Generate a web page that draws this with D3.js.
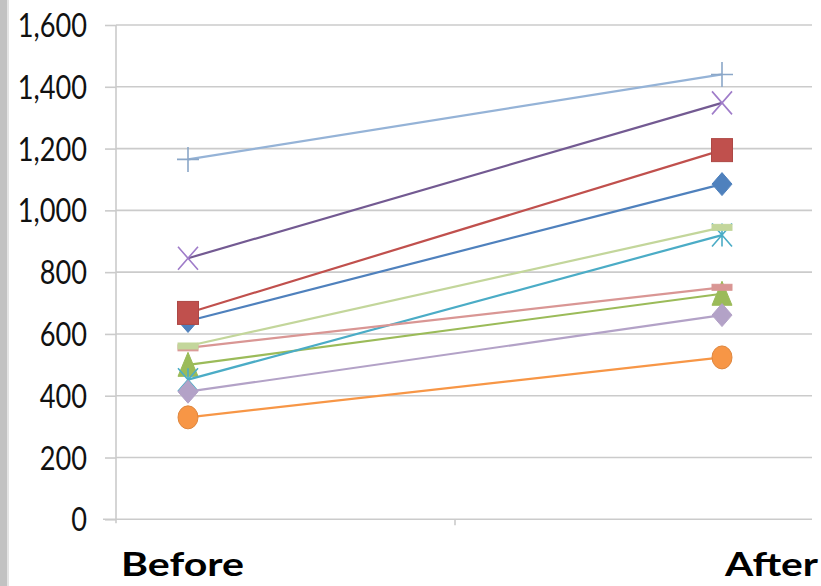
<!DOCTYPE html>
<html>
<head>
<meta charset="utf-8">
<script src="https://cdn.jsdelivr.net/npm/d3@7"></script>
<style>
  html, body { margin: 0; padding: 0; background: #fff; }
  svg { display: block; }
</style>
</head>
<body>
<svg id="chart" width="821" height="586"></svg>
<script>
// Two-point slope chart: ten measurements before and after.
const categories = ["Before", "After"];
const beforeValues = [642, 668, 500, 845, 452, 330, 1165, 555, 561, 413];
const afterValues  = [1085, 1195, 730, 1348, 920, 524, 1440, 751, 945, 661];
const yTickValues  = [0, 200, 400, 600, 800, 1000, 1200, 1400, 1600];

// Per-series look (Office palette and marker sequence)
const seriesColors  = ["#4f81bd", "#c0504d", "#9bbb59", "#8064a2", "#4bacc6",
                       "#f79646", "#95b3d7", "#d99694", "#c3d69b", "#b3a2c7"];
const seriesMarkers = ["diamond", "square", "triangle", "x", "star",
                       "circle", "plus", "dash", "dash", "diamond"];

const svg = d3.select("#chart");

// gray strip along the left edge
svg.append("rect").attr("x", 0).attr("y", 0).attr("width", 7).attr("height", 586).attr("fill", "#c2c2c2");
svg.append("rect").attr("x", 7).attr("y", 0).attr("width", 2).attr("height", 586).attr("fill", "#e4e4e4");

const plotLeft = 116, plotRight = 812;
const y = d3.scaleLinear().domain([0, 1600]).range([519.3, 25]);
const x = d3.scalePoint().domain(categories).range([188, 722]);

const gridColor = "#cbcbcb";

// horizontal gridlines
svg.append("g").selectAll("line")
  .data(yTickValues.filter(v => v > 0))
  .join("line")
  .attr("x1", plotLeft).attr("x2", plotRight)
  .attr("y1", d => y(d)).attr("y2", d => y(d))
  .attr("stroke", gridColor).attr("stroke-width", 1.6);

// y axis
const yAxis = d3.axisLeft(y)
  .tickValues(yTickValues)
  .tickFormat(d3.format(","))
  .tickSizeInner(11).tickSizeOuter(0).tickPadding(18);
const gy = svg.append("g").attr("transform", `translate(${plotLeft},0)`).call(yAxis);
gy.select(".domain").remove();
gy.selectAll(".tick line").attr("stroke", gridColor).attr("stroke-width", 1.6);
gy.selectAll(".tick text")
  .attr("fill", "#111")
  .style("font-family", "Lato, 'Open Sans', sans-serif")
  .style("font-size", "32px")
  .attr("dy", "0.36em")
  .each(function () {
    const w = this.getComputedTextLength();
    d3.select(this).attr("textLength", w * 0.85).attr("lengthAdjust", "spacingAndGlyphs");
  });
svg.append("line")
  .attr("x1", plotLeft).attr("x2", plotLeft)
  .attr("y1", y(1600)).attr("y2", y(0) + 4)
  .attr("stroke", gridColor).attr("stroke-width", 1.6);

// x axis baseline and category divider tick
svg.append("line")
  .attr("x1", plotLeft - 13).attr("x2", plotRight)
  .attr("y1", y(0)).attr("y2", y(0))
  .attr("stroke", gridColor).attr("stroke-width", 1.6);
const midX = (x(categories[0]) + x(categories[1])) / 2;
svg.append("line")
  .attr("x1", midX).attr("x2", midX)
  .attr("y1", y(0)).attr("y2", y(0) + 6)
  .attr("stroke", gridColor).attr("stroke-width", 1.6);

// category labels
const labelPos = { Before: { x: 121, w: 123 }, After: { x: 725, w: 93 } };
svg.append("g").selectAll("text")
  .data(categories)
  .join("text")
  .attr("x", d => labelPos[d].x)
  .attr("y", 576)
  .attr("textLength", d => labelPos[d].w)
  .attr("lengthAdjust", "spacingAndGlyphs")
  .style("font-family", "Lato, 'Open Sans', sans-serif")
  .style("font-weight", 700)
  .style("font-size", "32px")
  .attr("fill", "#000")
  .text(d => d);

// series lines and markers
const series = beforeValues.map((b, i) => ({
  values: [b, afterValues[i]],
  color: seriesColors[i],
  marker: seriesMarkers[i]
}));

function drawMarker(g, type, color, cx, cy) {
  const hw = 10, hh = 11.5;
  switch (type) {
    case "diamond":
      g.append("path")
        .attr("d", `M${cx},${cy - hh}L${cx + hw},${cy}L${cx},${cy + hh}L${cx - hw},${cy}Z`)
        .attr("fill", color).attr("stroke", color).attr("stroke-width", 1);
      break;
    case "square":
      g.append("rect")
        .attr("x", cx - hw - 0.5).attr("y", cy - hh).attr("width", 2 * hw + 1).attr("height", 2 * hh)
        .attr("fill", color).attr("stroke", d3.color(color).darker(0.3)).attr("stroke-width", 1);
      break;
    case "triangle":
      g.append("path")
        .attr("d", `M${cx},${cy - hh - 1}L${cx + hw},${cy + hh}L${cx - hw},${cy + hh}Z`)
        .attr("fill", color).attr("stroke", color).attr("stroke-width", 1);
      break;
    case "circle":
      g.append("ellipse")
        .attr("cx", cx).attr("cy", cy).attr("rx", hw).attr("ry", hh)
        .attr("fill", color).attr("stroke", d3.color(color).darker(0.3)).attr("stroke-width", 1);
      break;
    case "x":
      g.append("path")
        .attr("d", `M${cx - hw},${cy - hh}L${cx + hw},${cy + hh}M${cx - hw},${cy + hh}L${cx + hw},${cy - hh}`)
        .attr("fill", "none").attr("stroke", d3.color(color).brighter(0.6)).attr("stroke-width", 1.6);
      break;
    case "star":
      g.append("path")
        .attr("d", `M${cx - hw},${cy - hh}L${cx + hw},${cy + hh}M${cx - hw},${cy + hh}L${cx + hw},${cy - hh}M${cx},${cy - hh}L${cx},${cy + hh}`)
        .attr("fill", "none").attr("stroke", color).attr("stroke-width", 1.6);
      break;
    case "plus":
      g.append("path")
        .attr("d", `M${cx - hw - 1},${cy}L${cx + hw + 1},${cy}M${cx},${cy - hh - 1}L${cx},${cy + hh + 1}`)
        .attr("fill", "none").attr("stroke", d3.color(color).darker(0.2)).attr("stroke-width", 1.6);
      break;
    case "dash":
      g.append("rect")
        .attr("x", cx - hw).attr("y", cy - 3).attr("width", 2 * hw).attr("height", 6)
        .attr("fill", color).attr("stroke", color).attr("stroke-width", 1);
      break;
  }
}

const gSeries = svg.append("g");
series.forEach(s => {
  const g = gSeries.append("g");
  const pts = categories.map((c, j) => [x(c), y(s.values[j])]);
  g.append("path")
    .attr("d", d3.line()(pts))
    .attr("fill", "none")
    .attr("stroke", s.marker === "x" ? d3.color(s.color).darker(0.3) : s.color)
    .attr("stroke-width", 2.2);
  pts.forEach(p => drawMarker(g, s.marker, s.color, p[0], p[1]));
});
</script>
</body>
</html>
